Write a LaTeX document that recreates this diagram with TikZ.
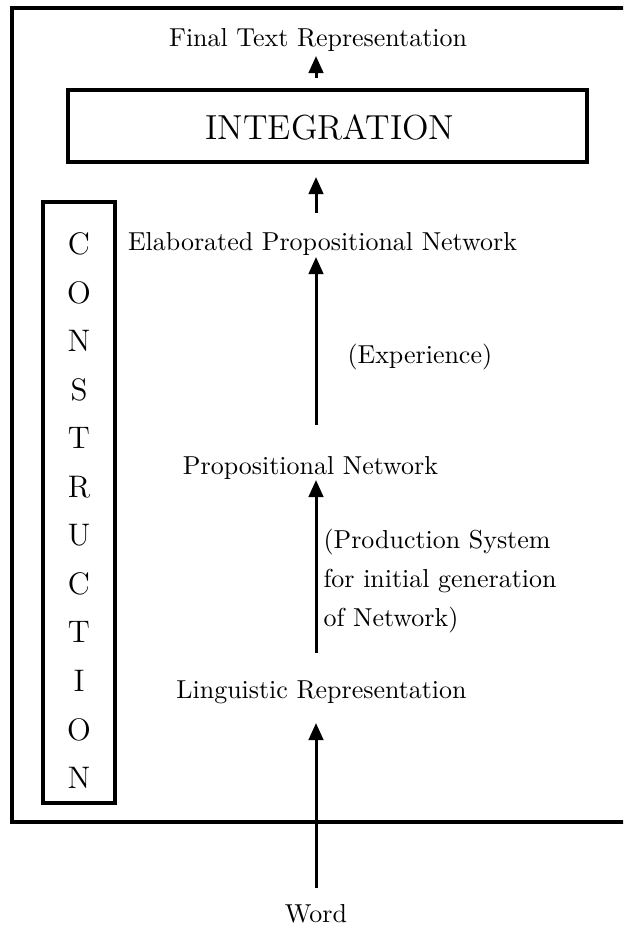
\documentclass[tikz,border=0pt]{standalone}
\usetikzlibrary{arrows.meta}
\begin{document}
\begin{tikzpicture}[x=0.3854pt,y=-0.3854pt,
  frame/.style={draw=black,line width=1.25pt},
  boxline/.style={draw=black,line width=1.45pt},
  arr/.style={line width=1.15pt,-{Triangle[width=5.6pt,length=6.6pt]}},
  lbl/.style={inner sep=0pt,anchor=base,font=\fontsize{10}{12}\selectfont},
  side/.style={inner sep=0pt,anchor=base west,align=left,font=\fontsize{10}{15}\selectfont},
  letter/.style={inner sep=0pt,anchor=center,font=\fontsize{12}{14}\selectfont}]
\useasboundingbox (0,0) rectangle (623,934);
\fill[white] (0,0) rectangle (623,934);

% outer frame, running off the right edge
\begin{scope}
  \clip (0,0) rectangle (623,934);
  \draw[frame] (12,8) rectangle (660,822);
\end{scope}

% vertical spine of the arrows
\coordinate (spine) at (316,0);

% integration block
\node[boxline,minimum width=519*0.3854pt,minimum height=72*0.3854pt,inner sep=0pt] (integ) at (327.5,126) {};
\node[inner sep=0pt,font=\fontsize{13.4}{16}\selectfont] (integt) at (330,127.5) {INTEGRATION};
\node[lbl] (final) at (318,47) {Final Text Representation};

% construction column
\node[boxline,minimum width=72*0.3854pt,minimum height=601*0.3854pt,inner sep=0pt] (constr) at (79,502.5) {};
\foreach \ch [count=\i from 0] in {C,O,N,S,T,R,U,C,T,I,O,N}
  \node[letter] (c\i) at (79,{244+48.55*\i}) {\ch};

% stages
\node[lbl] (elab) at (322.5,251) {Elaborated Propositional Network};
\node[lbl] (prop) at (310.5,474) {Propositional Network};
\node[lbl] (ling) at (321.5,698) {Linguistic Representation};
\node[lbl] (word) at (316,922) {Word};

% side notes
\node[side] (exp) at (347,364) {(Experience)};
\node[side] (prod) at (323,626) {(Production System\\for initial generation\\of Network)};

% arrows
\draw[arr] (spine |- integ.north) ++(0,-10) coordinate (a1s) -- (spine |- 0,56);
\draw[arr] (spine |- 0,213) -- (spine |- 0,177);
\draw[arr] (spine |- 0,425) -- (spine |- 0,257);
\draw[arr] (spine |- 0,653) -- (spine |- 0,480);
\draw[arr] (spine |- 0,888) -- (spine |- 0,723);
\end{tikzpicture}
\end{document}
